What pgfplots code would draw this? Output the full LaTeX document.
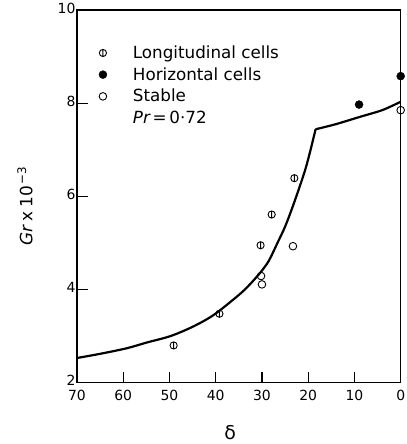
\documentclass[border=0pt]{standalone}
\usepackage{fontspec}
\setmainfont{DejaVu Sans}
\usepackage{pgfplots}
\pgfplotsset{compat=1.18}

% circle with a vertical bar through it
\pgfdeclareplotmark{cbar}{%
  \pgfpathcircle{\pgfpointorigin}{\pgfplotmarksize}%
  \pgfpathmoveto{\pgfpoint{0pt}{\pgfplotmarksize}}%
  \pgfpathlineto{\pgfpoint{0pt}{-\pgfplotmarksize}}%
  \pgfusepathqstroke}

\begin{document}
\begin{tikzpicture}
\path[use as bounding box] (-77bp,-61.3bp) rectangle (330bp,382.7bp);
\begin{axis}[
    scale only axis,
    width=323.7bp, height=372.7bp,
    x dir=reverse,
    xmin=0, xmax=70, ymin=2, ymax=10,
    xtick={0,10,...,70}, ytick={2,4,6,8,10},
    tick pos=left, tick align=inside,
    major tick length=11bp,
    axis line style={line width=1.3pt},
    every tick/.style={line width=1.1pt, black},
    /pgf/number format/assume math mode=true,
    tick label style={font=\fontsize{14}{16}\selectfont},
    xticklabel style={yshift=-4bp},
    yticklabel style={xshift=2bp, yshift=2bp},
    xlabel={δ},
    xlabel style={at={(axis description cs:0.473,-0.134)}, anchor=center, font=\fontsize{19}{21}\selectfont},
    ylabel={{\itshape Gr}\hspace{4bp}x\hspace{4bp}10\textsuperscript{\,−3}},
    ylabel style={at={(axis description cs:-0.161,0.474)}, anchor=center, font=\fontsize{17}{19}\selectfont},
    clip=false,
    legend style={at={(axis description cs:0.044,0.915)}, anchor=north west, draw=none, fill=none,
        font=\fontsize{16.8}{20}\selectfont, row sep=3.5bp,
        /tikz/every odd column/.append style={column sep=24bp}},
    legend cell align=left,
]
\addplot[only marks, mark=cbar, mark size=3.6bp, line width=0.9pt] coordinates {
    (49.1,2.80) (39.2,3.48) (30.3,4.95) (27.9,5.61) (23.0,6.39)
};
\addlegendentry{Longitudinal cells}
\addplot[only marks, mark=*, mark size=4bp, black] coordinates {
    (9.0,7.97) (0,8.58)
};
\addlegendentry{Horizontal cells}
\addplot[only marks, mark=o, mark size=3.8bp, line width=0.9pt] coordinates {
    (30.2,4.29) (30.0,4.11) (23.3,4.93) (0,7.85)
};
\addlegendentry{Stable}
\addlegendimage{empty legend}
\addlegendentry{{\itshape Pr}\,=\,0·72}
\addplot[line width=2.2pt, smooth, forget plot] coordinates {
    (70,2.53) (65,2.62) (59.2,2.74) (55,2.86) (49.8,3.0) (45,3.2) (40.5,3.45)
    (35.4,3.85) (33,4.07) (30.3,4.37) (28.5,4.62) (26.7,4.99) (25,5.35)
    (23.1,5.85) (20.5,6.62) (18.4,7.44)
};
\addplot[line width=2.2pt, smooth, forget plot] coordinates {
    (18.4,7.44) (14,7.55) (8.7,7.71) (4,7.85) (0,8.03)
};
\end{axis}
\end{tikzpicture}
\end{document}
